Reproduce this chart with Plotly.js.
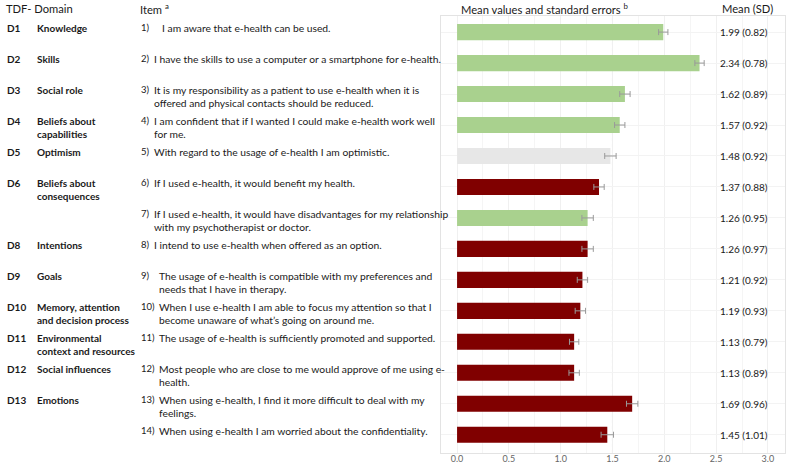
<!DOCTYPE html>
<html><head><meta charset="utf-8">
<script src="https://cdn.plot.ly/plotly-3.0.1.min.js"></script>
<style>html,body{margin:0;padding:0;background:#fff}</style>
</head><body><div id="chart" style="width:787px;height:464px"></div>
<script>
const itemKeys = ["1)","2)","3)","4)","5)","6)","7)","8)","9)","10)","11)","12)","13)","14)"];
const domainCodes = ["D1","D2","D3","D4","D5","D6","","D8","D9","D10","D11","D12","D13",""];
const domainNames = ["Knowledge","Skills","Social role","Beliefs about<br>capabilities","Optimism","Beliefs about<br>consequences","","Intentions","Goals","Memory, attention<br>and decision process","Environmental<br>context and resources","Social influences","Emotions",""];
const itemTexts = [
 "I am aware that e-health can be used.",
 "I have the skills to use a computer or a smartphone for e-health.",
 "It is my responsibility as a patient to use e-health when it is<br>offered and physical contacts should be reduced.",
 "I am confident that if I wanted I could make e-health work well<br>for me.",
 "With regard to the usage of e-health I am optimistic.",
 "If I used e-health, it would benefit my health.",
 "If I used e-health, it would have disadvantages for my relationship<br>with my psychotherapist or doctor.",
 "I intend to use e-health when offered as an option.",
 "The usage of e-health is compatible with my preferences and<br>needs that I have in therapy.",
 "When I use e-health I am able to focus my attention so that I<br>become unaware of what’s going on around me.",
 "The usage of e-health is sufficiently promoted and supported.",
 "Most people who are close to me would approve of me using e-<br>health.",
 "When using e-health, I find it more difficult to deal with my<br>feelings.",
 "When using e-health I am worried about the confidentiality."
];
const means = [1.99,2.34,1.62,1.57,1.48,1.37,1.26,1.26,1.21,1.19,1.13,1.13,1.69,1.45];
const sds = [0.82,0.78,0.89,0.92,0.92,0.88,0.95,0.97,0.92,0.93,0.79,0.89,0.96,1.01];
const ses = [0.045,0.045,0.05,0.05,0.055,0.05,0.055,0.055,0.05,0.05,0.045,0.05,0.055,0.06];
const groups = ["pos","pos","pos","pos","neutral","neg","pos","neg","neg","neg","neg","neg","neg","neg"];
const groupColors = {pos:"#a9d18e", neutral:"#e7e7e7", neg:"#800000"};

// layout (pixel) positions of the text columns
const textIndent = [160,152,152,152,152,152,152,152,157,157,157,157,157,157];

const FONT = "Lato, 'Open Sans', sans-serif";
const W = 787;
const px = v => v / W;

const trace = {
  type: "bar", orientation: "h",
  x: means, y: itemKeys,
  marker: {color: groups.map(g => groupColors[g])},
  error_x: {type: "data", array: ses, visible: true, color: "#9a9a9a", thickness: 1, width: 3},
  hoverinfo: "skip"
};

const ann = [];
itemKeys.forEach((k, i) => {
  const base = {xref: "paper", yref: "y", y: k, yanchor: "top", yshift: 12, xanchor: "left", showarrow: false, align: "left", font: {family: FONT, size: 10.3, color: "#1a1a1a"}};
  const bold = {family: FONT, size: 10, color: "#1a1a1a", weight: 700};
  if (domainCodes[i]) ann.push(Object.assign({}, base, {x: px(5), text: "<b>" + domainCodes[i] + "</b>", font: bold}));
  if (domainNames[i]) ann.push(Object.assign({}, base, {x: px(35), text: "<b>" + domainNames[i] + "</b>", font: bold}));
  ann.push(Object.assign({}, base, {x: px(139), text: k, font: {family: FONT, size: 9.5, color: "#1a1a1a"}}));
  ann.push(Object.assign({}, base, {x: px(textIndent[i]), text: itemTexts[i]}));
  ann.push({xref: "x", yref: "y", x: 2.774, y: k, xanchor: "center", yanchor: "middle", showarrow: false, text: means[i].toFixed(2) + " (" + sds[i].toFixed(2) + ")", font: {family: FONT, size: 10, color: "#1a1a1a"}});
});
const hdr = {xref: "paper", yref: "paper", yanchor: "middle", xanchor: "left", showarrow: false, font: {family: FONT, size: 11.2, color: "#1a1a1a"}};
ann.push(Object.assign({}, hdr, {x: px(4), y: 1.018, text: "TDF- Domain"}));
ann.push(Object.assign({}, hdr, {x: px(138), y: 1.018, text: "Item <sup>a</sup>"}));
ann.push(Object.assign({}, hdr, {x: px(459), y: 1.018, text: "Mean values and standard errors <sup>b</sup>"}));
ann.push(Object.assign({}, hdr, {x: px(720), y: 1.018, text: "Mean (SD)"}));

const layout = {
  width: 787, height: 464,
  margin: {l: 0, r: 0, t: 16, b: 11, pad: 0},
  paper_bgcolor: "#fff", plot_bgcolor: "#fff",
  showlegend: false,
  bargap: 0.48,
  font: {family: FONT, size: 10, color: "#333"},
  xaxis: {
    domain: [px(441), px(785)], range: [-0.155, 3.165],
    tick0: 0, dtick: 0.5, tickformat: ".1f",
    showgrid: true, gridcolor: "#f0f0f0", gridwidth: 1,
    minor: {dtick: 0.25, showgrid: true, gridcolor: "#f5f5f5"},
    zeroline: false, showline: true, linecolor: "#e3e3e3", mirror: true,
    ticks: "", tickfont: {family: FONT, size: 9, color: "#666"}, ticklabelstandoff: -3
  },
  yaxis: {
    type: "category", categoryorder: "array", categoryarray: itemKeys,
    range: [13.59, -0.52], showticklabels: false, ticks: "",
    showgrid: true, gridcolor: "#f3f3f3",
    zeroline: false, showline: true, linecolor: "#e3e3e3", mirror: true
  },
  shapes: [{type: "line", xref: "x", yref: "paper", x0: 1.5, x1: 1.5, y0: 0, y1: 1, line: {color: "#b8b8b8", width: 1, dash: "dot"}, layer: "below"}],
  annotations: ann
};
Plotly.newPlot("chart", [trace], layout, {staticPlot: true, displayModeBar: false});
</script></body></html>
